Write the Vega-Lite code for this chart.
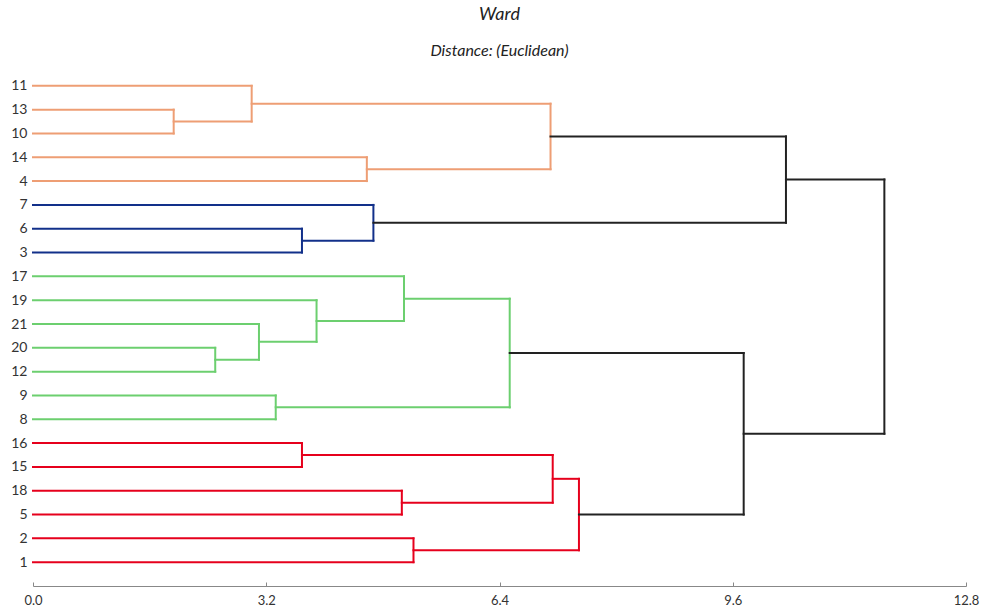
{
  "$schema": "https://vega.github.io/schema/vega-lite/v6.json",
  "width": 933,
  "height": 524,
  "autosize": {"type": "none"},
  "padding": {"left": 33, "top": 62, "right": 15, "bottom": 25},
  "background": "white",
  "title": {
    "text": "Ward",
    "subtitle": "Distance: (Euclidean)",
    "font": "Lato",
    "fontSize": 18,
    "fontStyle": "italic",
    "fontWeight": "normal",
    "color": "#222222",
    "subtitleFont": "Lato",
    "subtitleFontSize": 16,
    "subtitleFontStyle": "italic",
    "subtitleColor": "#222222",
    "subtitlePadding": 19,
    "offset": 3,
    "anchor": "middle"
  },
  "config": {"view": {"stroke": null}},
  "data": {
    "values": [
      {"node": "A", "x": 0, "x2": 1.93, "y": 1, "y2": 1, "c": "orange"},
      {"node": "A", "x": 0, "x2": 1.93, "y": 2, "y2": 2, "c": "orange"},
      {"node": "A", "x": 1.93, "x2": 1.93, "y": 1, "y2": 2, "c": "orange"},
      {"node": "B", "x": 0, "x2": 3.0, "y": 0, "y2": 0, "c": "orange"},
      {"node": "B", "x": 1.93, "x2": 3.0, "y": 1.5, "y2": 1.5, "c": "orange"},
      {"node": "B", "x": 3.0, "x2": 3.0, "y": 0, "y2": 1.5, "c": "orange"},
      {"node": "C", "x": 0, "x2": 4.58, "y": 3, "y2": 3, "c": "orange"},
      {"node": "C", "x": 0, "x2": 4.58, "y": 4, "y2": 4, "c": "orange"},
      {"node": "C", "x": 4.58, "x2": 4.58, "y": 3, "y2": 4, "c": "orange"},
      {"node": "D", "x": 3.0, "x2": 7.1, "y": 0.75, "y2": 0.75, "c": "orange"},
      {"node": "D", "x": 4.58, "x2": 7.1, "y": 3.5, "y2": 3.5, "c": "orange"},
      {"node": "D", "x": 7.1, "x2": 7.1, "y": 0.75, "y2": 3.5, "c": "orange"},
      {"node": "E", "x": 0, "x2": 3.69, "y": 6, "y2": 6, "c": "blue"},
      {"node": "E", "x": 0, "x2": 3.69, "y": 7, "y2": 7, "c": "blue"},
      {"node": "E", "x": 3.69, "x2": 3.69, "y": 6, "y2": 7, "c": "blue"},
      {"node": "F", "x": 0, "x2": 4.67, "y": 5, "y2": 5, "c": "blue"},
      {"node": "F", "x": 3.69, "x2": 4.67, "y": 6.5, "y2": 6.5, "c": "blue"},
      {"node": "F", "x": 4.67, "x2": 4.67, "y": 5, "y2": 6.5, "c": "blue"},
      {"node": "G", "x": 7.1, "x2": 10.33, "y": 2.125, "y2": 2.125, "c": "black"},
      {"node": "G", "x": 4.67, "x2": 10.33, "y": 5.75, "y2": 5.75, "c": "black"},
      {"node": "G", "x": 10.33, "x2": 10.33, "y": 2.125, "y2": 5.75, "c": "black"},
      {"node": "H", "x": 0, "x2": 2.5, "y": 11, "y2": 11, "c": "green"},
      {"node": "H", "x": 0, "x2": 2.5, "y": 12, "y2": 12, "c": "green"},
      {"node": "H", "x": 2.5, "x2": 2.5, "y": 11, "y2": 12, "c": "green"},
      {"node": "I", "x": 0, "x2": 3.1, "y": 10, "y2": 10, "c": "green"},
      {"node": "I", "x": 2.5, "x2": 3.1, "y": 11.5, "y2": 11.5, "c": "green"},
      {"node": "I", "x": 3.1, "x2": 3.1, "y": 10, "y2": 11.5, "c": "green"},
      {"node": "J", "x": 0, "x2": 3.89, "y": 9, "y2": 9, "c": "green"},
      {"node": "J", "x": 3.1, "x2": 3.89, "y": 10.75, "y2": 10.75, "c": "green"},
      {"node": "J", "x": 3.89, "x2": 3.89, "y": 9, "y2": 10.75, "c": "green"},
      {"node": "K", "x": 0, "x2": 5.09, "y": 8, "y2": 8, "c": "green"},
      {"node": "K", "x": 3.89, "x2": 5.09, "y": 9.875, "y2": 9.875, "c": "green"},
      {"node": "K", "x": 5.09, "x2": 5.09, "y": 8, "y2": 9.875, "c": "green"},
      {"node": "L", "x": 0, "x2": 3.33, "y": 13, "y2": 13, "c": "green"},
      {"node": "L", "x": 0, "x2": 3.33, "y": 14, "y2": 14, "c": "green"},
      {"node": "L", "x": 3.33, "x2": 3.33, "y": 13, "y2": 14, "c": "green"},
      {"node": "M", "x": 5.09, "x2": 6.54, "y": 8.9375, "y2": 8.9375, "c": "green"},
      {"node": "M", "x": 3.33, "x2": 6.54, "y": 13.5, "y2": 13.5, "c": "green"},
      {"node": "M", "x": 6.54, "x2": 6.54, "y": 8.9375, "y2": 13.5, "c": "green"},
      {"node": "N", "x": 0, "x2": 3.69, "y": 15, "y2": 15, "c": "red"},
      {"node": "N", "x": 0, "x2": 3.69, "y": 16, "y2": 16, "c": "red"},
      {"node": "N", "x": 3.69, "x2": 3.69, "y": 15, "y2": 16, "c": "red"},
      {"node": "O", "x": 0, "x2": 5.06, "y": 17, "y2": 17, "c": "red"},
      {"node": "O", "x": 0, "x2": 5.06, "y": 18, "y2": 18, "c": "red"},
      {"node": "O", "x": 5.06, "x2": 5.06, "y": 17, "y2": 18, "c": "red"},
      {"node": "P", "x": 3.69, "x2": 7.13, "y": 15.5, "y2": 15.5, "c": "red"},
      {"node": "P", "x": 5.06, "x2": 7.13, "y": 17.5, "y2": 17.5, "c": "red"},
      {"node": "P", "x": 7.13, "x2": 7.13, "y": 15.5, "y2": 17.5, "c": "red"},
      {"node": "Q", "x": 0, "x2": 5.22, "y": 19, "y2": 19, "c": "red"},
      {"node": "Q", "x": 0, "x2": 5.22, "y": 20, "y2": 20, "c": "red"},
      {"node": "Q", "x": 5.22, "x2": 5.22, "y": 19, "y2": 20, "c": "red"},
      {"node": "R", "x": 7.13, "x2": 7.49, "y": 16.5, "y2": 16.5, "c": "red"},
      {"node": "R", "x": 5.22, "x2": 7.49, "y": 19.5, "y2": 19.5, "c": "red"},
      {"node": "R", "x": 7.49, "x2": 7.49, "y": 16.5, "y2": 19.5, "c": "red"},
      {"node": "S", "x": 6.54, "x2": 9.75, "y": 11.21875, "y2": 11.21875, "c": "black"},
      {"node": "S", "x": 7.49, "x2": 9.75, "y": 18, "y2": 18, "c": "black"},
      {"node": "S", "x": 9.75, "x2": 9.75, "y": 11.21875, "y2": 18, "c": "black"},
      {"node": "T", "x": 10.33, "x2": 11.68, "y": 3.9375, "y2": 3.9375, "c": "black"},
      {"node": "T", "x": 9.75, "x2": 11.68, "y": 14.609375, "y2": 14.609375, "c": "black"},
      {"node": "T", "x": 11.68, "x2": 11.68, "y": 3.9375, "y2": 14.609375, "c": "black"}
    ]
  },
  "mark": {"type": "rule", "strokeWidth": 2, "strokeCap": "square"},
  "encoding": {
    "x": {
      "field": "x",
      "type": "quantitative",
      "scale": {"domain": [0, 12.8], "nice": false, "zero": false},
      "axis": {
        "title": null,
        "values": [0, 3.2, 6.4, 9.6, 12.8],
        "format": ".1f",
        "grid": false,
        "domainColor": "#888888",
        "tickColor": "#888888",
        "tickSize": -4,
        "labelPadding": 12,
        "labelFont": "Lato",
        "labelFontSize": 13,
        "labelColor": "#333333",
        "labelFlush": false
      }
    },
    "x2": {"field": "x2"},
    "y": {
      "field": "y",
      "type": "quantitative",
      "scale": {"domain": [-1, 21], "reverse": true, "nice": false, "zero": false},
      "axis": {
        "title": null,
        "values": [0, 1, 2, 3, 4, 5, 6, 7, 8, 9, 10, 11, 12, 13, 14, 15, 16, 17, 18, 19, 20],
        "labelExpr": "['11','13','10','14','4','7','6','3','17','19','21','20','12','9','8','16','15','18','5','2','1'][datum.value]",
        "grid": false,
        "domain": false,
        "ticks": false,
        "labelPadding": 6,
        "labelFont": "Lato",
        "labelFontSize": 14,
        "labelColor": "#333333"
      }
    },
    "y2": {"field": "y2"},
    "color": {
      "field": "c",
      "type": "nominal",
      "scale": {"domain": ["orange", "blue", "green", "red", "black"], "range": ["#ee9e74", "#12308a", "#6ccf6f", "#e6001c", "#222222"]},
      "legend": null
    }
  }
}
